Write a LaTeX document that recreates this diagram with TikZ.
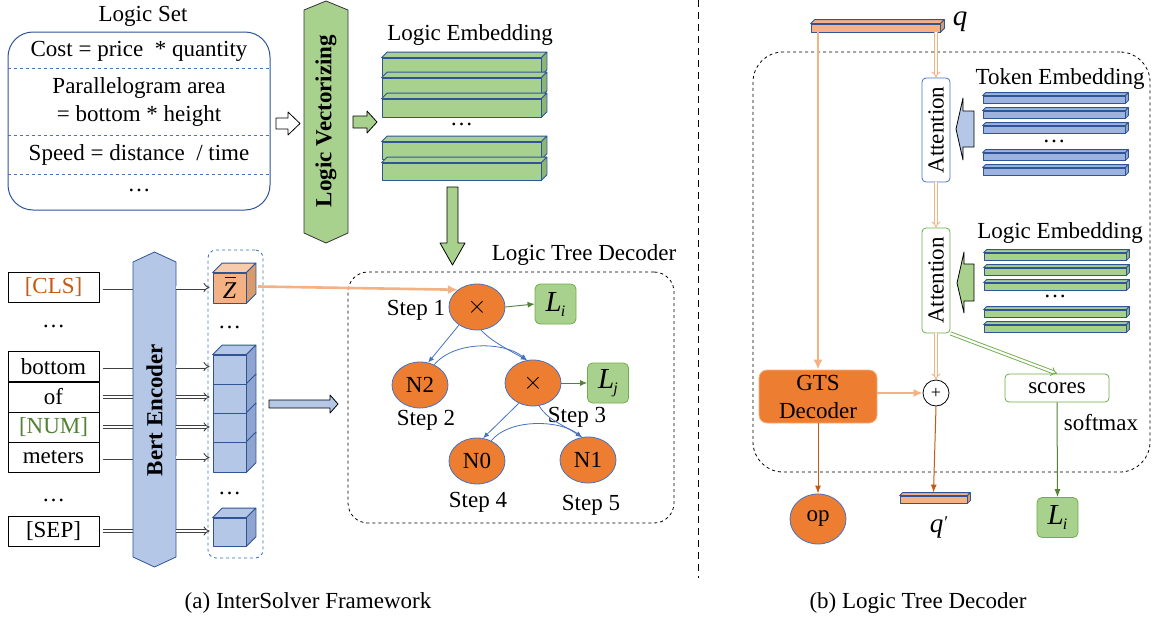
\documentclass[tikz,border=0pt]{standalone}
\usepackage{fontspec}
\setmainfont{Liberation Serif}
\usetikzlibrary{arrows.meta,shapes.geometric,calc}
\definecolor{dorange}{HTML}{ED7D31}
\definecolor{lorange}{HTML}{F4B183}
\definecolor{sorange}{HTML}{D99A6C}
\definecolor{torange}{HTML}{F8CBAD}
\definecolor{rorange}{HTML}{C55A11}
\definecolor{dblue}{HTML}{2F5597}
\definecolor{mblue}{HTML}{4472C4}
\definecolor{lblue}{HTML}{B4C7E7}
\definecolor{sblue}{HTML}{8FA5CF}
\definecolor{tblue}{HTML}{9DB4E0}
\definecolor{lgreen}{HTML}{A9D18E}
\definecolor{sgreen}{HTML}{8DB573}
\definecolor{mgreen}{HTML}{70AD47}
\definecolor{dgreen}{HTML}{548235}
\definecolor{dashblue}{HTML}{2E75B6}
\newcommand\fs{\fontsize{23}{27}\selectfont}
\newcommand\topface[4]{\draw[draw=#4,fill=#3,line width=0.8pt] (#1.north west) -- ++(#2,#2) -- ([shift={(#2,#2)}]#1.north east) -- (#1.north east) -- cycle;}
\newcommand\sideface[4]{\draw[draw=#4,fill=#3,line width=0.8pt] (#1.north east) -- ++(#2,#2) -- ([shift={(#2,#2)}]#1.south east) -- (#1.south east) -- cycle;}
\newcommand\slabfaces[5]{\topface{#1}{#2}{#3}{#5}\sideface{#1}{#2}{#4}{#5}}
\newcommand\Lsub[1]{{\fontsize{29}{30}\selectfont\itshape L\kern-1pt\raisebox{-5pt}{\fontsize{16}{18}\selectfont #1}}}
\begin{document}
\begin{tikzpicture}[x=1pt,y=1pt,font=\fs,line join=round,
  tok/.style={draw,line width=0.8pt,minimum width=91pt,minimum height=30pt,inner sep=0pt},
  orn/.style={ellipse,draw=mblue,fill=dorange,line width=0.8pt,minimum width=56pt,minimum height=46pt,inner sep=0pt},
  lbox/.style={draw=mgreen,fill=lgreen,line width=0.8pt,rounded corners=5pt,minimum width=41pt,minimum height=40pt,inner sep=0pt},
  tedge/.style={draw=mblue,line width=0.8pt,-{Latex[length=6pt,width=5pt]}},
  gedge/.style={draw=dgreen,line width=0.9pt,-{Latex[length=7pt,width=6pt]}},
  dbl/.style={draw=#1,double=white,line width=0.9pt,double distance=2.2pt},
  dtip/.style={-{Implies[length=6pt,width=9pt]}},
  front/.style={draw=dblue,line width=0.8pt,inner sep=0pt,fill=#1},
  blk/.style={draw=black,line width=0.8pt},
  att/.style={draw=#1,fill=white,line width=0.8pt,rounded corners=4pt,minimum width=28pt,minimum height=104pt,inner sep=0pt},
  plain/.style={inner sep=1pt}
]
\useasboundingbox (0,0) rectangle (1153,-624);
\fill[white] (0,0) rectangle (1153,-624);

% ---------------- Logic set ----------------
\node[plain] (lstitle) at (143,-16) {Logic Set};
\node[draw=dblue,line width=1pt,rounded corners=25pt,minimum width=262pt,minimum height=178pt,inner sep=0pt] (lset) at (139,-121) {};
\foreach \yy in {68,135,174}{\draw[mblue,dashed,line width=0.8pt] (lset.west |- 0,-\yy) -- (lset.east |- 0,-\yy);}
\node[plain] (ls1) at (139,-51) {Cost = price~ * quantity};
\node[plain,align=center,font=\fontsize{23}{28}\selectfont] (ls2) at (139,-102) {Parallelogram area\\= bottom * height};
\node[plain] (ls3) at (139,-155) {Speed = distance~ / time};
\node[plain] (ls4) at (139,-190) {…};
\draw[blk,fill=white] (276,-118) -- (288,-118) -- (288,-112) -- (300,-123.5) -- (288,-135) -- (288,-129) -- (276,-129) -- cycle;

% ---------------- Logic vectorizing ----------------
\draw[draw=black!80,fill=lgreen,line width=0.8pt] (304,-10) -- (326,-1) -- (348,-10) -- (348,-233) -- (326,-243) -- (304,-233) -- cycle;
\node[plain] (lv) at (326,-121) {\rotatebox{90}{\textbf{Logic Vectorizing}}};
\draw[blk,fill=lgreen] (353,-116) -- (367,-116) -- (367,-111) -- (377,-122) -- (367,-133) -- (367,-128) -- (353,-128) -- cycle;

% ---------------- Logic embedding (left) ----------------
\node[plain] (letitle) at (470,-35) {Logic Embedding};
\node[front=lgreen,minimum width=159pt,minimum height=17pt] (le1) at (461.5,-66.5) {};
\slabfaces{le1}{5.5}{lgreen}{sgreen}{dblue}
\node[front=lgreen,minimum width=159pt,minimum height=18pt] (le2) at (461.5,-87) {};
\slabfaces{le2}{5.5}{lgreen}{sgreen}{dblue}
\node[front=lgreen,minimum width=159pt,minimum height=18pt] (le3) at (461.5,-108) {};
\slabfaces{le3}{5.5}{lgreen}{sgreen}{dblue}
\node[plain] (ledots) at (461.5,-124) {…};
\node[front=lgreen,minimum width=159pt,minimum height=17pt] (le4) at (461.5,-150.5) {};
\slabfaces{le4}{5.5}{lgreen}{sgreen}{dblue}
\node[front=lgreen,minimum width=159pt,minimum height=17pt] (le5) at (461.5,-171.5) {};
\slabfaces{le5}{5.5}{lgreen}{sgreen}{dblue}
\draw[blk,fill=lgreen] (447,-187) -- (458,-187) -- (458,-243) -- (465,-243) -- (452.5,-265) -- (440,-243) -- (447,-243) -- cycle;

% ---------------- Logic tree decoder ----------------
\node[plain] (ltdtitle) at (584,-255) {Logic Tree Decoder};
\node[draw,dashed,line width=0.8pt,rounded corners=20pt,minimum width=326pt,minimum height=251pt,inner sep=0pt] (ltd) at (511,-397.5) {};
\node[orn] (root) at (477,-307) {$\times$};
\node[orn] (n2) at (420,-385) {N2};
\node[orn] (x2) at (533,-383) {$\times$};
\node[orn] (n0) at (477,-461) {N0};
\node[orn] (n1) at (588,-460) {N1};
\node[lbox] (li) at (555.5,-304) {\Lsub{i}};
\node[lbox] (lj) at (608,-383) {\Lsub{j}};
\node[plain] (s1) at (416,-310) {Step 1};
\node[plain] (s2) at (426,-420) {Step 2};
\node[plain] (s3) at (577,-417) {Step 3};
\node[plain] (s4) at (478,-502) {Step 4};
\node[plain] (s5) at (591,-505) {Step 5};
\draw[gedge] (root.east) -- (li.west);
\draw[gedge] (x2.east) -- (lj.west);
\draw[tedge] (root.225) -- (n2.70);
\draw[tedge] (root.280) .. controls (490,-340) and (505,-348) .. (x2.105);
\draw[tedge] (n2.55) .. controls (455,-340) and (505,-342) .. (x2.105);
\draw[tedge] (x2.235) -- (n0.75);
\draw[tedge] (x2.285) .. controls (548,-420) and (560,-423) .. (n1.105);
\draw[tedge] (n0.55) .. controls (510,-418) and (560,-420) .. (n1.105);

% ---------------- Tokens ----------------
\node[tok] (cls) at (53.5,-287.5) {\textcolor{rorange}{[CLS]}};
\node[plain] (td1) at (53.5,-326) {…};
\node[tok] (bot) at (53.5,-366.5) {bottom};
\node[tok] (of) at (53.5,-397) {of};
\node[tok] (num) at (53.5,-427) {\textcolor{dgreen}{[NUM]}};
\node[tok] (met) at (53.5,-457.5) {meters};
\node[plain] (td2) at (53.5,-500) {…};
\node[tok] (sep) at (53.5,-531) {[SEP]};

% Bert encoder (named node first, shape drawn around it)
\path (154.5,-410) node[minimum width=43pt,minimum height=290pt,inner sep=0pt] (bert) {};
\foreach \t in {cls,bot,of,num,met,sep}{\draw[dbl=black!75] ([xshift=4pt]\t.east) -- (\t -| bert.west);}
\draw[draw=dblue,fill=lblue,line width=0.8pt] (133,-262) -- (154.5,-252) -- (176,-262) -- (176,-557) -- (154.5,-567) -- (133,-557) -- cycle;
\node[plain] (bertlabel) at (bert.center) {\rotatebox{90}{\textbf{Bert Encoder}}};

% cubes column
\node[draw=dashblue,dashed,line width=0.8pt,rounded corners=8pt,minimum width=55pt,minimum height=308pt,inner sep=0pt] (col) at (235.5,-404) {};
\node[front=lorange,minimum width=33pt,minimum height=30pt] (zc) at (229.5,-288) {};
\slabfaces{zc}{9.5}{torange}{sorange}{dblue}
\node[inner sep=0pt,font=\fontsize{24}{26}\selectfont] (zlab) at (229.5,-290.5) {\itshape Z};
\draw[line width=0.9pt] ([xshift=-5pt,yshift=13.5pt]zlab.center) -- ([xshift=6pt,yshift=13.5pt]zlab.center);
\node[plain] (cd1) at (229.5,-327) {…};
\node[front=lblue,minimum width=33pt,minimum height=29pt] (c1) at (229.5,-369.5) {};
\slabfaces{c1}{9.5}{lblue}{sblue}{dblue}
\node[front=lblue,minimum width=33pt,minimum height=29pt] (c2) at (229.5,-398.5) {};
\sideface{c2}{9.5}{sblue}{dblue}
\node[front=lblue,minimum width=33pt,minimum height=29pt] (c3) at (229.5,-427.5) {};
\sideface{c3}{9.5}{sblue}{dblue}
\node[front=lblue,minimum width=33pt,minimum height=30pt] (c4) at (229.5,-457) {};
\sideface{c4}{9.5}{sblue}{dblue}
\node[plain] (cd2) at (229.5,-493) {…};
\node[front=lblue,minimum width=33pt,minimum height=28pt] (c5) at (229.5,-532) {};
\slabfaces{c5}{9.5}{lblue}{sblue}{dblue}

\draw[dbl=black!75,dtip] (cls -| bert.east) -- ([xshift=-3pt]cls -| zc.west);
\draw[dbl=black!75,dtip] (bot -| bert.east) -- ([xshift=-3pt]bot -| c1.west);
\draw[dbl=black!75,dtip] (of -| bert.east) -- ([xshift=-3pt]of -| c2.west);
\draw[dbl=black!75,dtip] (num -| bert.east) -- ([xshift=-3pt]num -| c3.west);
\draw[dbl=black!75,dtip] (met -| bert.east) -- ([xshift=-3pt]met -| c4.west);
\draw[dbl=black!75,dtip] (sep -| bert.east) -- ([xshift=-3pt]sep -| c5.west);

\draw[blk,fill=lblue] (269,-400) -- (330,-400) -- (330,-395) -- (338,-404) -- (330,-413) -- (330,-408) -- (269,-408) -- cycle;
\coordinate (zr) at (258,-286.5);
\draw[draw=lorange,line width=2.6pt,-{Latex[length=10pt,width=9pt]}] (zr) -- (root.138);

% ---------------- separator & captions ----------------
\draw[line width=1pt,dash pattern=on 7pt off 5pt] (698,0) -- (698,-578);
\node[plain] (capa) at (308,-603) {(a) InterSolver Framework};
\node[plain] (capb) at (918,-603) {(b) Logic Tree Decoder};

% ---------------- Right panel ----------------
\node[draw,dashed,line width=0.8pt,rounded corners=30pt,minimum width=397pt,minimum height=420pt,inner sep=0pt] (rbox) at (951.5,-262) {};
\node[front=lorange,minimum width=129pt,minimum height=8pt] (qbar) at (875.5,-28) {};
\slabfaces{qbar}{4}{lorange}{sorange}{dblue}
\node[plain] (qlab) at (960,-22) {\fontsize{29}{30}\selectfont\itshape q};

\node[att=mblue] (att1) at (936,-130) {\rotatebox{90}{Attention}};
\node[att=mgreen,minimum height=105pt] (att2) at (936,-280.5) {\rotatebox{90}{Attention}};

\node[plain] (tetitle) at (1060,-79) {Token Embedding};
\foreach \nm/\yc in {te1/99.5,te2/114.5,te3/129.5,te4/156.5,te5/171.5}{
  \node[front=tblue,minimum width=142pt,minimum height=7pt] (\nm) at (1054,-\yc) {};
  \slabfaces{\nm}{3}{tblue}{sblue}{dblue}}
\node[plain] (tedots) at (1054,-141) {…};
\draw[blk,fill=lblue] (956,-129) -- (963,-98) -- (963,-111) -- (974,-111) -- (974,-147) -- (963,-147) -- (963,-160) -- cycle;

\node[plain] (rletitle) at (1060,-233) {Logic Embedding};
\foreach \nm/\yc in {re1/256.5,re2/271.5,re3/286.5,re4/313.5,re5/328.5}{
  \node[front=lgreen,minimum width=142pt,minimum height=7pt] (\nm) at (1055,-\yc) {};
  \slabfaces{\nm}{3}{lgreen}{sgreen}{dblue}}
\node[plain] (redots) at (1055,-296) {…};
\draw[blk,fill=lgreen] (957,-283) -- (964,-252) -- (964,-264) -- (974,-264) -- (974,-301) -- (964,-301) -- (964,-313) -- cycle;

\node[draw=lorange,fill=dorange,line width=0.8pt,rounded corners=8pt,minimum width=118pt,minimum height=53pt,inner sep=0pt,align=center,font=\fontsize{23}{28}\selectfont] (gts) at (818,-396.5) {GTS\\Decoder};
\node[circle,draw,fill=white,line width=0.8pt,minimum size=26pt,inner sep=0pt,font=\fontsize{18}{20}\selectfont] (plus) at (936,-393) {+};
\node[draw=mgreen,fill=white,line width=0.8pt,rounded corners=4pt,minimum width=104pt,minimum height=28pt,inner sep=0pt] (scores) at (1057,-388) {scores};
\node[plain] (softmax) at (1101,-423) {softmax};
\node[lbox] (liR) at (1057.5,-517.5) {\Lsub{i}};
\node[ellipse,draw=mblue,fill=dorange,line width=0.8pt,minimum width=56pt,minimum height=50pt,inner sep=0pt] (op) at (818,-519) {op};
\node[front=lorange,minimum width=67pt,minimum height=7pt] (qp) at (933.5,-499.5) {};
\slabfaces{qp}{3}{lorange}{sorange}{dblue}
\node[plain] (qplab) at (939,-527) {\fontsize{27}{28}\selectfont\itshape q\kern1pt\raisebox{4pt}{\upshape\fontsize{18}{20}\selectfont\char"2032}};

\draw[draw=lorange,line width=2.6pt,-{Latex[length=10pt,width=9pt]}] (qbar.south -| gts.north) -- (gts.north);
\draw[dbl=lorange,dtip] (qbar.south -| att1.north) -- (att1.north);
\draw[dbl=lorange,dtip] (att1.south) -- (att2.north);
\draw[dbl=lorange,dtip] (att2.south) -- (plus.north);
\draw[dbl=mgreen,dtip] (att2.south east) -- (scores.north);
\draw[draw=lorange,line width=2pt,-{Latex[length=9pt,width=8pt]}] (gts.east |- plus.west) -- (plus.west);
\draw[draw=dgreen,line width=1pt,-{Latex[length=8pt,width=6pt]}] (scores.south) -- (liR.north);
\draw[draw=rorange,line width=1pt,-{Latex[length=8pt,width=6pt]}] (gts.south) -- (op.north);
\draw[draw=rorange,line width=1pt,-{Latex[length=8pt,width=6pt]}] (plus.south) -- ([yshift=3pt]qp.north);
\end{tikzpicture}
\end{document}
